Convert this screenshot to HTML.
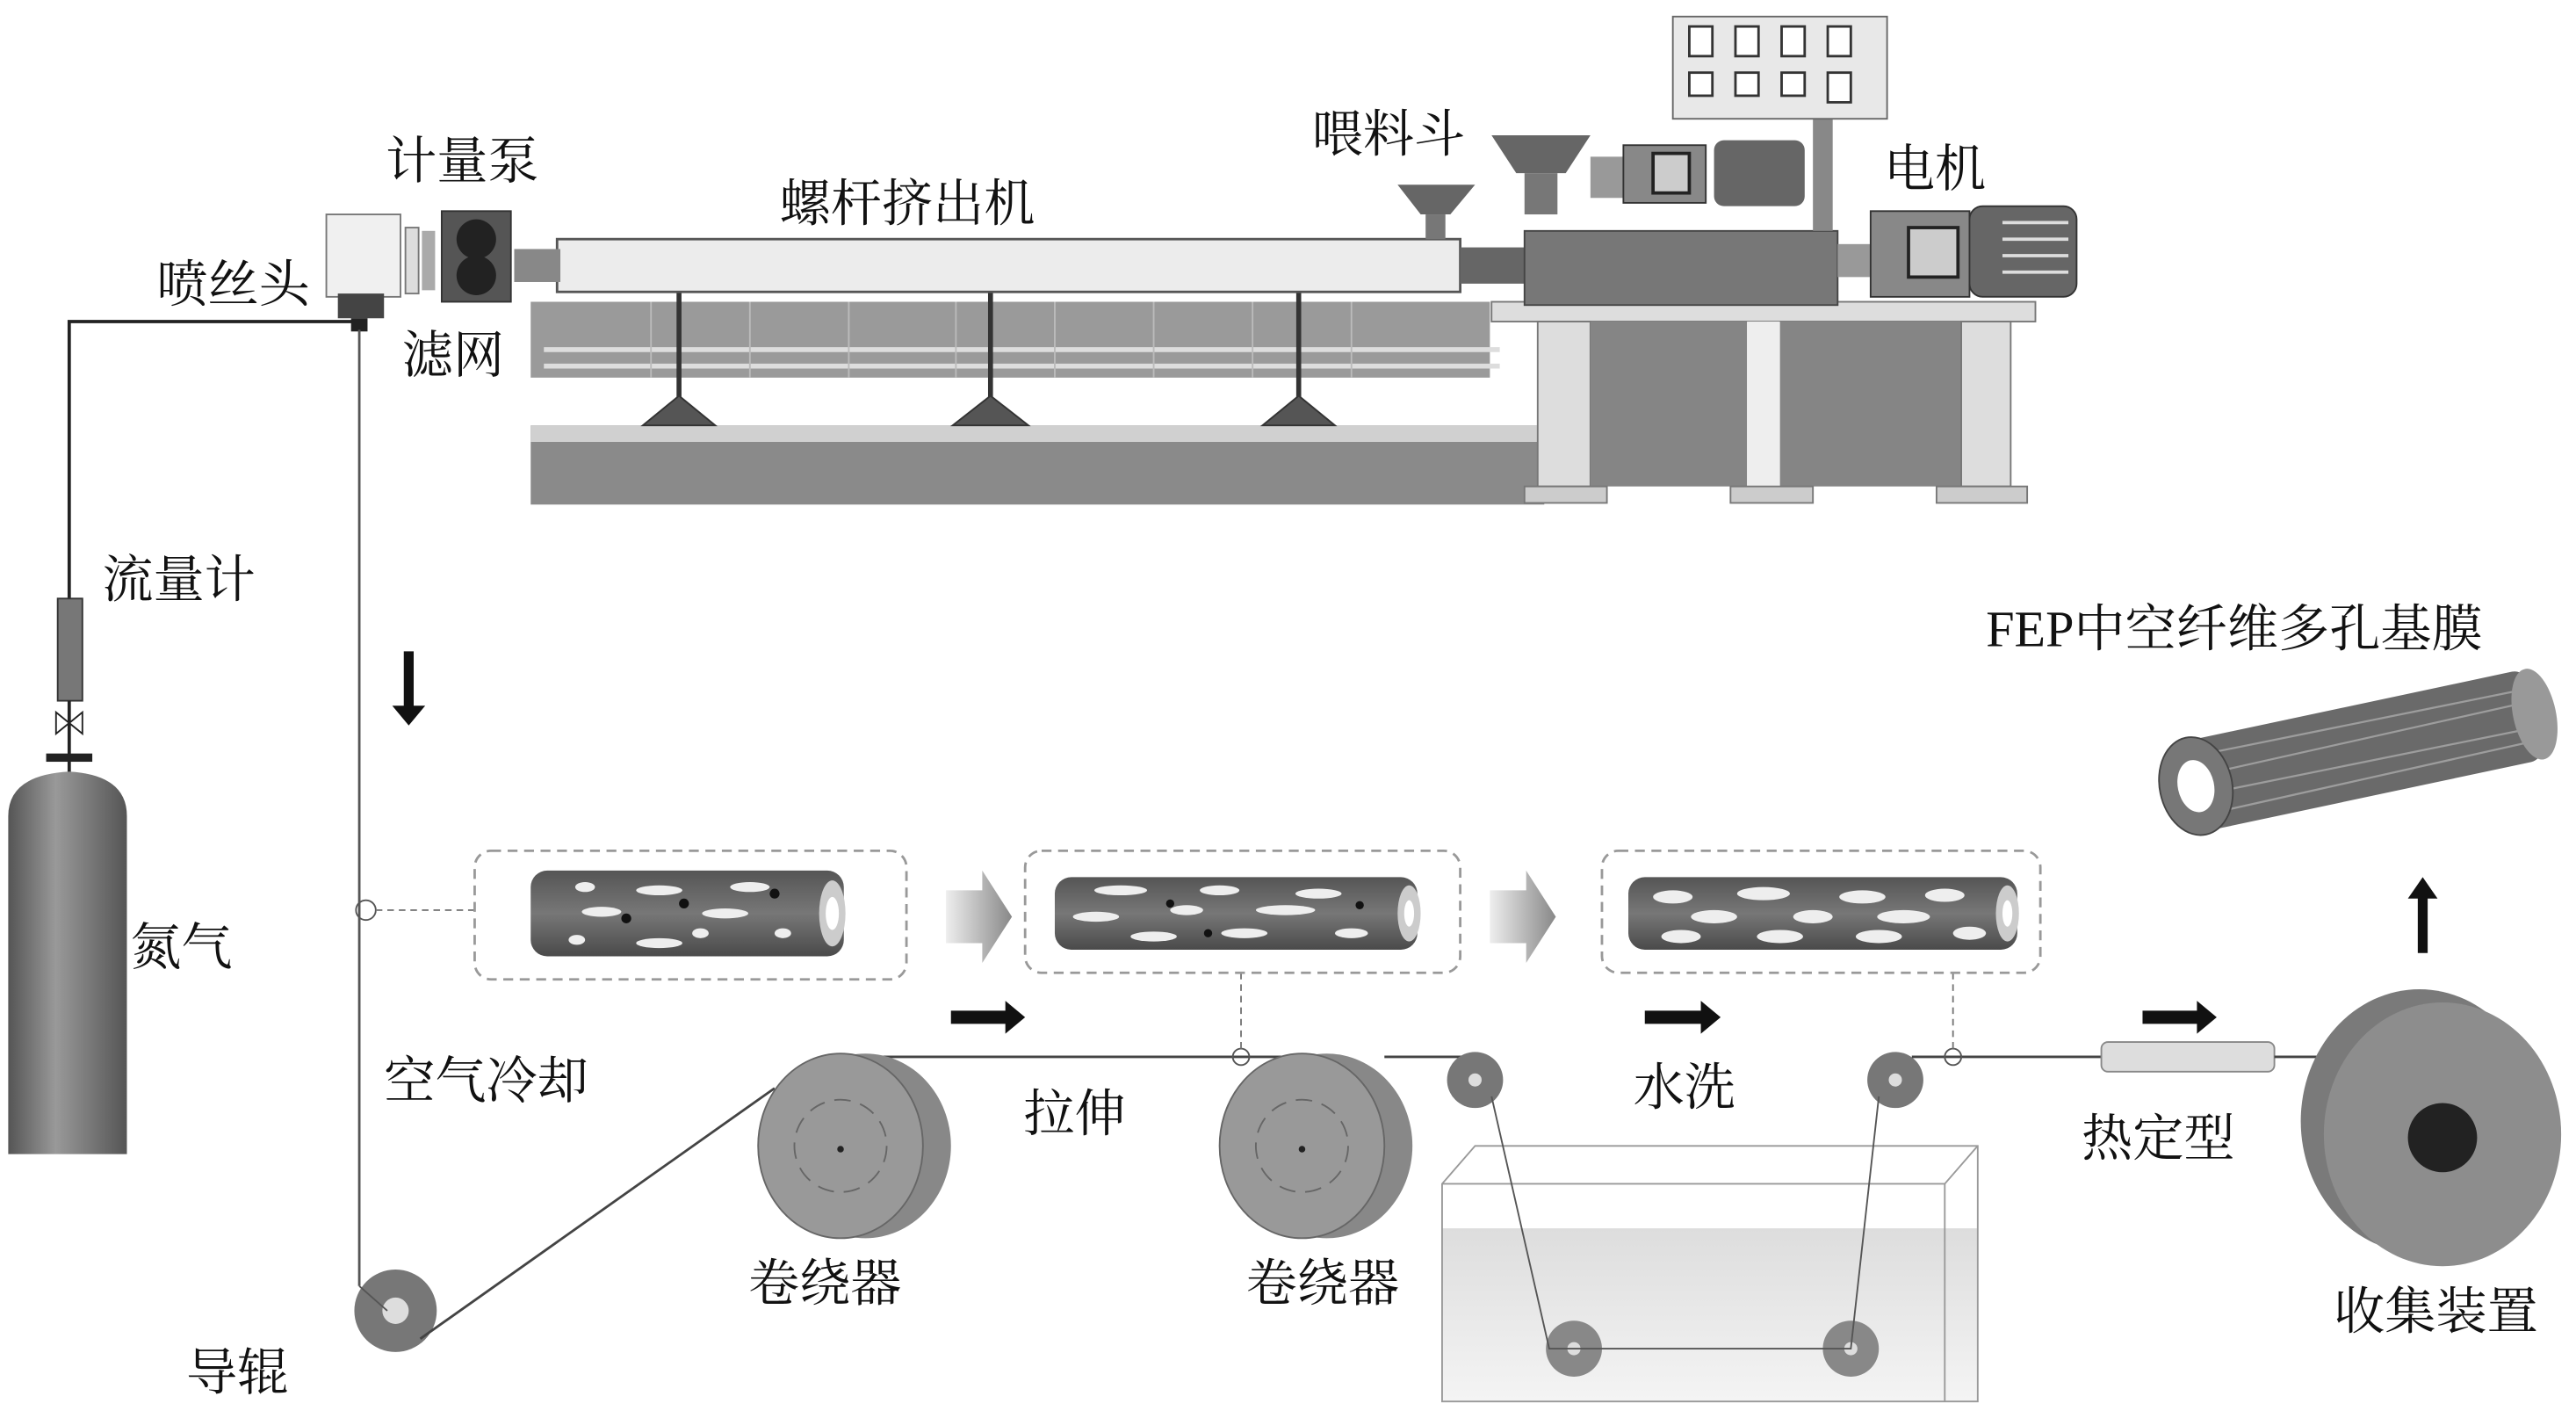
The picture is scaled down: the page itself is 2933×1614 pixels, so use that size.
<!DOCTYPE html>
<html><head><meta charset="utf-8"><style>
html,body{margin:0;padding:0;background:#fff;}
svg{display:block;}
text{font-family:"Liberation Serif","Noto Serif CJK SC","Noto Sans CJK SC",serif;fill:#111;}
</style></head><body>
<svg width="2933" height="1614" viewBox="0 0 1563 860" xmlns="http://www.w3.org/2000/svg">
<defs>
<linearGradient id="cyl" x1="0" x2="1"><stop offset="0" stop-color="#555"/><stop offset="0.4" stop-color="#999"/><stop offset="1" stop-color="#555"/></linearGradient>
<linearGradient id="fib" x1="0" y1="0" x2="0" y2="1"><stop offset="0" stop-color="#555"/><stop offset="0.5" stop-color="#777"/><stop offset="1" stop-color="#4a4a4a"/></linearGradient>
<linearGradient id="arr" x1="0" x2="1"><stop offset="0" stop-color="#eee"/><stop offset="1" stop-color="#888"/></linearGradient>
<linearGradient id="water" x1="0" y1="0" x2="0" y2="1"><stop offset="0" stop-color="#ddd"/><stop offset="1" stop-color="#f4f4f4"/></linearGradient>
</defs>
<rect width="1563" height="860" fill="#fff"/>

<rect x="322" y="258" width="615" height="48" fill="#8a8a8a"/>
<rect x="322" y="258" width="615" height="10" fill="#d0d0d0"/>
<rect x="322" y="183" width="582" height="46" fill="#9a9a9a"/>
<line x1="330" y1="212" x2="910" y2="212" stroke="#ddd" stroke-width="3"/>
<line x1="330" y1="222" x2="910" y2="222" stroke="#ddd" stroke-width="3"/>
<g stroke="#bbb" stroke-width="1"><line x1="395" y1="183" x2="395" y2="229"/><line x1="455" y1="183" x2="455" y2="229"/><line x1="515" y1="183" x2="515" y2="229"/><line x1="580" y1="183" x2="580" y2="229"/><line x1="640" y1="183" x2="640" y2="229"/><line x1="700" y1="183" x2="700" y2="229"/><line x1="760" y1="183" x2="760" y2="229"/><line x1="820" y1="183" x2="820" y2="229"/></g>
<g fill="#555" stroke="#333">
<line x1="412" y1="177" x2="412" y2="245" stroke-width="3"/><polygon points="390,258 412,240 434,258"/>
<line x1="601" y1="177" x2="601" y2="245" stroke-width="3"/><polygon points="578,258 601,240 624,258"/>
<line x1="788" y1="177" x2="788" y2="245" stroke-width="3"/><polygon points="766,258 788,240 810,258"/>
</g>
<rect x="338" y="145" width="548" height="32" fill="#ececec" stroke="#555" stroke-width="1.5"/>
<rect x="312" y="151" width="28" height="20" fill="#888"/>
<rect x="886" y="150" width="45" height="22" fill="#666"/>
<rect x="905" y="183" width="330" height="12" fill="#ddd" stroke="#777"/>
<rect x="933" y="195" width="32" height="100" fill="#ddd" stroke="#777"/>
<rect x="965" y="195" width="95" height="100" fill="#858585"/>
<rect x="1060" y="195" width="20" height="100" fill="#eee"/>
<rect x="1080" y="195" width="110" height="100" fill="#858585"/>
<rect x="1190" y="195" width="30" height="100" fill="#ddd" stroke="#777"/>
<rect x="925" y="295" width="50" height="10" fill="#ccc" stroke="#777"/>
<rect x="1050" y="295" width="50" height="10" fill="#ccc" stroke="#777"/>
<rect x="1175" y="295" width="55" height="10" fill="#ccc" stroke="#777"/>
<rect x="925" y="140" width="190" height="45" fill="#777" stroke="#444"/>
<rect x="1115" y="148" width="20" height="20" fill="#999"/>
<rect x="1135" y="128" width="60" height="52" fill="#888" stroke="#333"/>
<rect x="1158" y="138" width="30" height="30" fill="#ccc" stroke="#222" stroke-width="2"/>
<rect x="1195" y="125" width="65" height="55" rx="8" fill="#666" stroke="#333"/>
<g stroke="#ddd" stroke-width="2"><line x1="1215" y1="135" x2="1255" y2="135"/><line x1="1215" y1="145" x2="1255" y2="145"/><line x1="1215" y1="155" x2="1255" y2="155"/><line x1="1215" y1="165" x2="1255" y2="165"/></g>
<rect x="1100" y="70" width="12" height="70" fill="#888"/>
<rect x="1015" y="10" width="130" height="62" fill="#e8e8e8" stroke="#666"/>
<g fill="#fff" stroke="#333" stroke-width="1.5">
<rect x="1025" y="16" width="14" height="18"/><rect x="1053" y="16" width="14" height="18"/><rect x="1081" y="16" width="14" height="18"/><rect x="1109" y="16" width="14" height="18"/>
<rect x="1025" y="44" width="14" height="14"/><rect x="1053" y="44" width="14" height="14"/><rect x="1081" y="44" width="14" height="14"/><rect x="1109" y="44" width="14" height="18"/>
</g>
<polygon points="905,82 965,82 950,105 920,105" fill="#666"/><rect x="925" y="105" width="20" height="25" fill="#777"/>
<rect x="965" y="95" width="20" height="25" fill="#999"/>
<rect x="985" y="88" width="50" height="35" fill="#888" stroke="#333"/>
<rect x="1003" y="93" width="22" height="24" fill="#ccc" stroke="#222" stroke-width="2"/>
<rect x="1040" y="85" width="55" height="40" rx="6" fill="#666"/>
<polygon points="848,112 895,112 880,130 862,130" fill="#666"/><rect x="865" y="130" width="12" height="15" fill="#777"/>
<rect x="198" y="130" width="45" height="50" fill="#f0f0f0" stroke="#777"/>
<rect x="205" y="178" width="28" height="15" fill="#444"/>
<rect x="213" y="193" width="10" height="8" fill="#222"/>
<rect x="246" y="138" width="8" height="40" fill="#ddd" stroke="#777"/>
<rect x="256" y="140" width="8" height="36" fill="#aaa"/>
<rect x="268" y="128" width="42" height="55" fill="#555" stroke="#333"/>
<circle cx="289" cy="145" r="12" fill="#222"/><circle cx="289" cy="167" r="12" fill="#222"/>
<polyline points="42,365 42,195 215,195" fill="none" stroke="#222" stroke-width="2"/>
<rect x="35" y="363" width="15" height="62" fill="#777" stroke="#333"/>
<line x1="42" y1="425" x2="42" y2="470" stroke="#222" stroke-width="2"/>
<polygon points="34,432 50,445 50,432 34,445" fill="#fff" stroke="#222"/>
<rect x="28" y="457" width="28" height="5" fill="#222"/>
<path d="M5,700 L5,495 Q5,470 42,468 Q77,470 77,495 L77,700 Z" fill="url(#cyl)"/>
<line x1="218" y1="200" x2="218" y2="780" stroke="#555" stroke-width="1.5"/>
<circle cx="222" cy="552" r="6" fill="none" stroke="#555"/>
<line x1="228" y1="552" x2="290" y2="552" stroke="#777" stroke-dasharray="4,3"/>
<circle cx="240" cy="795" r="25" fill="#777"/><circle cx="240" cy="795" r="8" fill="#ddd"/>
<polyline points="235,795 218,780" fill="none" stroke="#555"/>
<line x1="255" y1="812" x2="470" y2="660" stroke="#444" stroke-width="1.5"/>
<line x1="520" y1="641" x2="800" y2="641" stroke="#444" stroke-width="1.5"/>
<line x1="840" y1="641" x2="890" y2="641" stroke="#444" stroke-width="1.5"/>
<g>
<ellipse cx="525" cy="695" rx="52" ry="56" fill="#888"/><ellipse cx="510" cy="695" rx="50" ry="56" fill="#999" stroke="#666"/>
<circle cx="510" cy="695" r="28" fill="none" stroke="#666" stroke-dasharray="10,6"/><circle cx="510" cy="697" r="2" fill="#222"/>
<ellipse cx="805" cy="695" rx="52" ry="56" fill="#888"/><ellipse cx="790" cy="695" rx="50" ry="56" fill="#999" stroke="#666"/>
<circle cx="790" cy="695" r="28" fill="none" stroke="#666" stroke-dasharray="10,6"/><circle cx="790" cy="697" r="2" fill="#222"/>
</g>
<circle cx="753" cy="641" r="5" fill="none" stroke="#555"/>
<line x1="753" y1="590" x2="753" y2="636" stroke="#777" stroke-dasharray="4,3"/>
<rect x="875" y="745" width="325" height="105" fill="url(#water)"/>
<polygon points="875,718 895,695 1200,695 1200,850 875,850" fill="none" stroke="#999"/>
<line x1="875" y1="718" x2="1180" y2="718" stroke="#999"/><line x1="1180" y1="718" x2="1200" y2="695" stroke="#999"/><line x1="1180" y1="718" x2="1180" y2="850" stroke="#999"/>
<circle cx="895" cy="655" r="17" fill="#777"/><circle cx="895" cy="655" r="4" fill="#ddd"/>
<circle cx="1150" cy="655" r="17" fill="#777"/><circle cx="1150" cy="655" r="4" fill="#ddd"/>
<circle cx="955" cy="818" r="17" fill="#888"/><circle cx="955" cy="818" r="4" fill="#ddd"/>
<circle cx="1123" cy="818" r="17" fill="#888"/><circle cx="1123" cy="818" r="4" fill="#ddd"/>
<polyline points="905,665 940,818 1123,818 1140,665" fill="none" stroke="#555"/>
<line x1="1160" y1="641" x2="1275" y2="641" stroke="#444" stroke-width="1.5"/>
<circle cx="1185" cy="641" r="5" fill="none" stroke="#555"/>
<line x1="1185" y1="590" x2="1185" y2="636" stroke="#777" stroke-dasharray="4,3"/>
<rect x="1275" y="632" width="105" height="18" rx="4" fill="#ddd" stroke="#888"/>
<line x1="1380" y1="641" x2="1440" y2="641" stroke="#444" stroke-width="1.5"/>
<ellipse cx="1468" cy="680" rx="72" ry="80" fill="#7a7a7a"/>
<ellipse cx="1482" cy="688" rx="72" ry="80" fill="#8d8d8d"/>
<circle cx="1482" cy="690" r="21" fill="#222"/>
<g fill="none" stroke="#999" stroke-width="1.5" stroke-dasharray="6,4">
<rect x="288" y="516" width="262" height="78" rx="10"/>
<rect x="622" y="516" width="264" height="74" rx="10"/>
<rect x="972" y="516" width="266" height="74" rx="10"/>
</g>
<g>
<rect x="322" y="528" width="190" height="52" rx="10" fill="url(#fib)"/><ellipse cx="505" cy="554" rx="8" ry="20" fill="#ccc"/><ellipse cx="505" cy="554" rx="4" ry="10" fill="#fff"/>
<rect x="640" y="532" width="220" height="44" rx="10" fill="url(#fib)"/><ellipse cx="855" cy="554" rx="7" ry="17" fill="#ccc"/><ellipse cx="855" cy="554" rx="3" ry="8" fill="#fff"/>
<rect x="988" y="532" width="236" height="44" rx="10" fill="url(#fib)"/><ellipse cx="1218" cy="554" rx="7" ry="17" fill="#ccc"/><ellipse cx="1218" cy="554" rx="3" ry="8" fill="#fff"/>
</g>
<g fill="#eee">
<ellipse cx="355" cy="538" rx="6" ry="3"/><ellipse cx="400" cy="540" rx="14" ry="3"/><ellipse cx="455" cy="538" rx="12" ry="3"/><ellipse cx="365" cy="553" rx="12" ry="3"/><ellipse cx="440" cy="554" rx="14" ry="3"/><ellipse cx="400" cy="572" rx="14" ry="3"/><ellipse cx="350" cy="570" rx="5" ry="3"/><ellipse cx="475" cy="566" rx="5" ry="3"/><ellipse cx="425" cy="566" rx="5" ry="3"/>
<ellipse cx="680" cy="540" rx="16" ry="3"/><ellipse cx="740" cy="540" rx="12" ry="3"/><ellipse cx="800" cy="542" rx="14" ry="3"/><ellipse cx="665" cy="556" rx="14" ry="3"/><ellipse cx="720" cy="552" rx="10" ry="3"/><ellipse cx="780" cy="552" rx="18" ry="3"/><ellipse cx="700" cy="568" rx="14" ry="3"/><ellipse cx="755" cy="566" rx="14" ry="3"/><ellipse cx="820" cy="566" rx="10" ry="3"/>
<ellipse cx="1015" cy="544" rx="12" ry="4"/><ellipse cx="1070" cy="542" rx="16" ry="4"/><ellipse cx="1130" cy="544" rx="14" ry="4"/><ellipse cx="1180" cy="543" rx="12" ry="4"/><ellipse cx="1040" cy="556" rx="14" ry="4"/><ellipse cx="1100" cy="556" rx="12" ry="4"/><ellipse cx="1155" cy="556" rx="16" ry="4"/><ellipse cx="1020" cy="568" rx="12" ry="4"/><ellipse cx="1080" cy="568" rx="14" ry="4"/><ellipse cx="1140" cy="568" rx="14" ry="4"/><ellipse cx="1195" cy="566" rx="10" ry="4"/>
</g>
<g fill="#111"><circle cx="380" cy="557" r="3"/><circle cx="470" cy="542" r="3"/><circle cx="415" cy="548" r="3"/><circle cx="710" cy="548" r="2.5"/><circle cx="825" cy="549" r="2.5"/><circle cx="733" cy="566" r="2.5"/></g>
<polygon points="574,540 596,540 596,528 614,556 596,584 596,572 574,572" fill="url(#arr)"/>
<polygon points="904,540 926,540 926,528 944,556 926,584 926,572 904,572" fill="url(#arr)"/>
<g fill="#111">
<polygon points="577,613 610,613 610,607 622,617 610,627 610,621 577,621"/>
<polygon points="998,613 1032,613 1032,607 1044,617 1032,627 1032,621 998,621"/>
<polygon points="1300,613 1333,613 1333,607 1345,617 1333,627 1333,621 1300,621"/>
<polygon points="245,395 251,395 251,428 258,428 248,440 238,428 245,428"/>
<polygon points="1467,578 1473,578 1473,545 1479,545 1470,532 1461,545 1467,545"/>
</g>
<g transform="rotate(-12 1430 455)">
<rect x="1330" y="428" width="210" height="56" rx="8" fill="#6a6a6a"/>
<g stroke="#aaa" stroke-width="1.2" opacity="0.8"><line x1="1340" y1="438" x2="1530" y2="440"/><line x1="1345" y1="450" x2="1535" y2="448"/><line x1="1345" y1="462" x2="1535" y2="464"/><line x1="1340" y1="474" x2="1530" y2="472"/></g>
<ellipse cx="1540" cy="456" rx="13" ry="28" fill="#999"/>
<ellipse cx="1330" cy="456" rx="22" ry="30" fill="#777" stroke="#444"/>
<ellipse cx="1330" cy="456" rx="11" ry="16" fill="#fff"/>
</g>
<g font-size="31">
<text x="234" y="108">计量泵</text>
<text x="95" y="183">喷丝头</text>
<text x="244" y="226">滤网</text>
<text x="473" y="134">螺杆挤出机</text>
<text x="796" y="92">喂料斗</text>
<text x="1143" y="113">电机</text>
<text x="62" y="362">流量计</text>
<text x="79" y="585">氮气</text>
<text x="233" y="666">空气冷却</text>
<text x="621" y="686">拉伸</text>
<text x="454" y="789">卷绕器</text>
<text x="756" y="789">卷绕器</text>
<text x="991" y="670">水洗</text>
<text x="1263" y="701">热定型</text>
<text x="1416" y="806">收集装置</text>
<text x="113" y="843">导辊</text>
<text x="1205" y="392">FEP中空纤维多孔基膜</text>
</g>
</svg>
</body></html>
